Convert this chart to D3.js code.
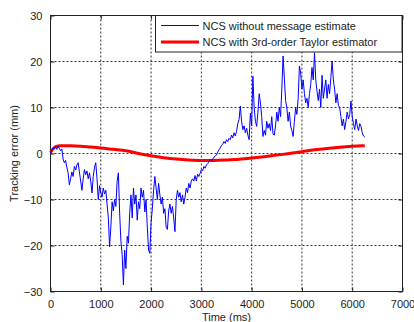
<!DOCTYPE html>
<html>
<head>
<meta charset="utf-8">
<script src="https://cdn.jsdelivr.net/npm/d3@7"></script>
<style>
  html, body { margin: 0; padding: 0; background: #fff; }
  svg { display: block; font-family: "Liberation Sans", Arial, sans-serif; }
</style>
</head>
<body>
<div id="chart"></div>
<script>
// tick labels
const xTicks = [0, 1000, 2000, 3000, 4000, 5000, 6000, 7000];
const yTicks = [-30, -20, -10, 0, 10, 20, 30];

// blue series: NCS without message estimate, one sample every 25 ms from 0 ms
const blueStartTime = 0;
const blueStep = 25;
const blueValues = [
  0.2, 0.8, 1.2, 1.0, 1.5, 0.9, 1.6, 1.1, 0.6, 1.0,
  -1.2, -2.0, -1.5, -3.0, -4.2, -6.8, -5.5, -4.0, -5.0, -2.8,
  -3.6, -2.5, -2.0, -4.0, -6.0, -8.0, -5.5, -3.5, -4.6, -3.8,
  -5.5, -4.2, -6.0, -8.6, -5.0, -3.0, -2.0, -5.5, -10.0, -7.0,
  -8.5, -9.5, -7.5, -8.8, -8.0, -11.0, -14.0, -20.3, -16.0, -10.5,
  -12.5, -10.0, -11.5, -6.0, -4.2, -13.0, -19.0, -22.0, -28.6, -21.0,
  -25.0, -18.0, -19.5, -13.0, -9.0, -14.0, -7.5, -11.0, -9.0, -14.5,
  -10.5, -12.0, -7.5, -9.5, -8.0, -12.7, -10.0, -16.0, -21.0, -21.7,
  -15.0, -12.0, -8.0, -5.0, -7.5, -10.0, -6.5, -9.0, -11.0, -9.5,
  -13.0, -12.0, -16.0, -16.5, -12.5, -11.0, -13.0, -11.5, -14.0, -17.0,
  -10.0, -8.0, -9.5, -8.5, -10.5, -9.0, -11.0, -9.5, -7.5, -8.5,
  -6.5, -7.5, -6.0, -5.5, -6.0, -4.8, -6.0, -4.5, -5.0, -4.3,
  -3.5, -3.8, -2.8, -3.2, -2.5, -2.2, -1.8, -1.3, -1.6, -1.2,
  -0.8, -0.6, -0.3, 0.3, 0.8, 1.2, 1.8, 2.0, 2.6, 2.2,
  3.0, 2.6, 3.3, 3.0, 4.0, 3.4, 4.5, 3.8, 4.8, 6.5,
  7.4, 10.3, 7.0, 5.2, 6.0, 4.5, 5.5, 4.0, 3.0, 8.8,
  6.0, 16.8, 10.0, 7.0, 5.9, 9.0, 13.0, 11.0, 8.0, 3.7,
  5.0, 4.0, 7.0, 5.5, 6.5, 5.0, 8.0, 4.2, 4.0, 6.0,
  9.0, 7.0, 10.0, 8.0, 14.0, 21.2, 16.5, 11.5, 10.0, 7.0,
  9.0, 6.0, 5.0, 3.7, 7.0, 10.0, 8.5, 12.0, 19.0, 17.5,
  14.0, 16.0, 13.0, 11.0, 12.0, 10.0, 13.0, 15.0, 18.7, 16.0,
  21.9, 16.0, 13.5, 11.5, 14.0, 10.0, 17.0, 12.0, 14.0, 16.0,
  12.0, 15.0, 13.0, 16.5, 20.1, 16.0, 14.0, 11.0, 13.0, 10.5,
  10.0, 8.0, 6.0, 7.5, 5.2, 7.0, 9.0, 7.5, 8.5, 11.4,
  8.1, 6.5, 5.2, 7.5, 6.0, 5.0, 6.5, 5.9, 4.5, 3.8,
  3.6
];

// red series: NCS with 3rd-order Taylor estimator
const redTimes = [0, 50, 100, 200, 400, 600, 800, 1000, 1250, 1500, 1750, 2000, 2250, 2500, 2750,
  3000, 3250, 3500, 3750, 4000, 4250, 4500, 4750, 5000, 5250, 5500, 5750, 6000, 6250];
const redValues = [0.2, 1.0, 1.5, 1.7, 1.7, 1.6, 1.4, 1.2, 0.9, 0.6, 0.0, -0.5, -0.9, -1.2, -1.4,
  -1.5, -1.5, -1.4, -1.25, -1.0, -0.7, -0.35, 0.0, 0.4, 0.8, 1.1, 1.35, 1.55, 1.7];

const legendLabels = ['NCS without message estimate', 'NCS with 3rd-order Taylor estimator'];

const W = 414, H = 322;
const margin = { top: 15.5, right: 11.5, bottom: 30.5, left: 50.5 };
const width = W - margin.left - margin.right;
const height = H - margin.top - margin.bottom;

const svg = d3.select('#chart').append('svg')
  .attr('width', W)
  .attr('height', H);

const g = svg.append('g')
  .attr('transform', 'translate(' + margin.left + ',' + margin.top + ')');

const x = d3.scaleLinear().domain([0, 7000]).range([0, width]);
const y = d3.scaleLinear().domain([-30, 30]).range([height, 0]);

// grid
g.append('g').selectAll('line')
  .data(xTicks.slice(1, -1))
  .enter().append('line')
  .attr('x1', d => x(d)).attr('x2', d => x(d))
  .attr('y1', 0).attr('y2', height)
  .attr('stroke', '#333').attr('stroke-dasharray', '2,2');

g.append('g').selectAll('line')
  .data(yTicks.slice(1, -1))
  .enter().append('line')
  .attr('y1', d => y(d)).attr('y2', d => y(d))
  .attr('x1', 0).attr('x2', width)
  .attr('stroke', '#333').attr('stroke-dasharray', '2,2');

// axes (matlab style: ticks inside, on all four sides)
const fmt = d3.format('d');
g.append('g')
  .attr('transform', 'translate(0,' + height + ')')
  .call(d3.axisBottom(x).tickValues(xTicks).tickFormat(fmt).tickSizeInner(-4).tickSizeOuter(0).tickPadding(9));
g.append('g')
  .call(d3.axisLeft(y).tickValues(yTicks).tickFormat(fmt).tickSizeInner(-4).tickSizeOuter(0).tickPadding(8));
g.append('g')
  .call(d3.axisTop(x).tickValues(xTicks).tickSizeInner(-4).tickSizeOuter(0).tickFormat(''));
g.append('g')
  .attr('transform', 'translate(' + width + ',0)')
  .call(d3.axisRight(y).tickValues(yTicks).tickSizeInner(-4).tickSizeOuter(0).tickFormat(''));

g.selectAll('.domain').remove();
g.selectAll('.tick line').attr('stroke', '#222');
g.selectAll('.tick text')
  .style('font-size', '11px')
  .attr('fill', '#222');

// box
g.append('rect')
  .attr('width', width).attr('height', height)
  .attr('fill', 'none').attr('stroke', '#222').attr('stroke-width', 1);

// lines
const blueData = blueValues.map((v, i) => ({ t: blueStartTime + i * blueStep, v: v }));
const redData = redTimes.map((t, i) => ({ t: t, v: redValues[i] }));

g.append('path')
  .datum(redData)
  .attr('fill', 'none')
  .attr('stroke', '#ff0000')
  .attr('stroke-width', 3)
  .attr('d', d3.line().x(d => x(d.t)).y(d => y(d.v)).curve(d3.curveMonotoneX));

g.append('path')
  .datum(blueData)
  .attr('fill', 'none')
  .attr('stroke', '#0000ff')
  .attr('stroke-width', 1)
  .attr('stroke-linejoin', 'round')
  .attr('d', d3.line().x(d => x(d.t)).y(d => y(d.v)));

// legend
const legend = svg.append('g').attr('transform', 'translate(155.5,15.5)');
legend.append('rect')
  .attr('width', 246.5).attr('height', 36.5)
  .attr('fill', '#fff').attr('stroke', '#222');
const legendColors = ['#0000ff', '#ff0000'];
const legendWidths = [1, 3];
legendLabels.forEach((label, i) => {
  const ly = 10 + i * 16.5;
  legend.append('line')
    .attr('x1', 5.5).attr('x2', 43.5)
    .attr('y1', ly).attr('y2', ly)
    .attr('stroke', legendColors[i]).attr('stroke-width', legendWidths[i]);
  legend.append('text')
    .attr('x', 47).attr('y', ly + 4)
    .style('font-size', '11px')
    .attr('fill', '#222')
    .text(label);
});

// axis labels
svg.append('text')
  .attr('x', margin.left + width / 2).attr('y', 321)
  .attr('text-anchor', 'middle')
  .style('font-size', '11px')
  .attr('fill', '#222')
  .text('Time (ms)');

svg.append('text')
  .attr('transform', 'translate(18,' + (margin.top + height / 2) + ') rotate(-90)')
  .attr('text-anchor', 'middle')
  .style('font-size', '11px')
  .attr('fill', '#222')
  .text('Tracking error (mm)');
</script>
</body>
</html>
